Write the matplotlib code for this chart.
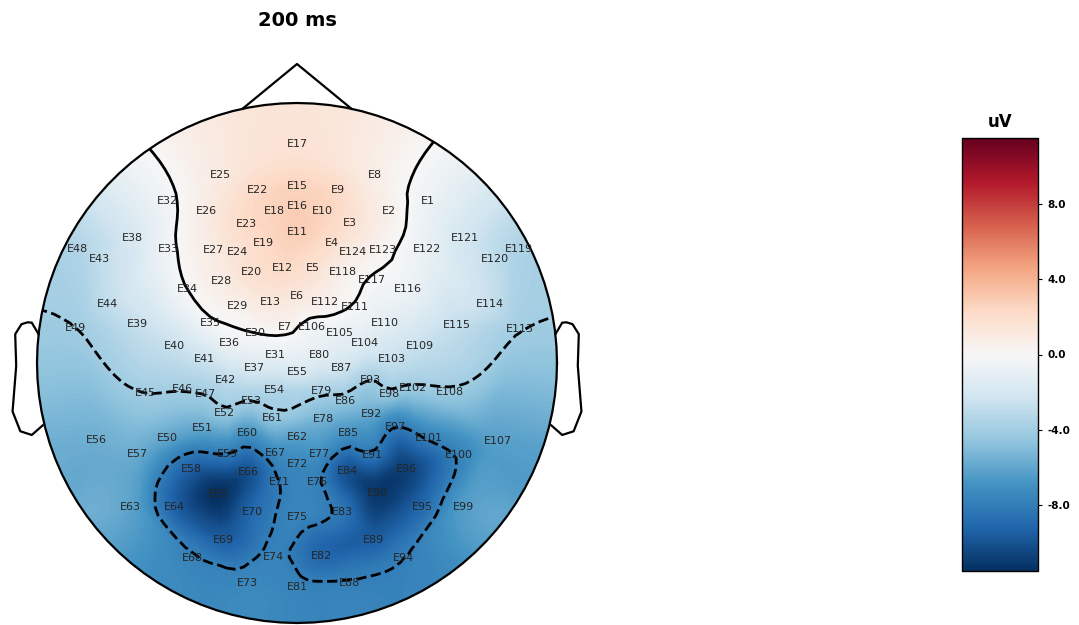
import numpy as np
import matplotlib
matplotlib.use("Agg")
import matplotlib.pyplot as plt
import matplotlib.tri as mtri
from matplotlib.patches import Circle
from matplotlib.ticker import MaxNLocator

# EGI 128 net, 2D layout (head radius = 260 layout units), E14/E21/E125-E128 dropped
ch_names = [
    "E1", "E2", "E3", "E4", "E5", "E6", "E7", "E8", "E9", "E10",
    "E11", "E12", "E13", "E15", "E16", "E17", "E18", "E19", "E20", "E22",
    "E23", "E24", "E25", "E26", "E27", "E28", "E29", "E30", "E31", "E32",
    "E33", "E34", "E35", "E36", "E37", "E38", "E39", "E40", "E41", "E42",
    "E43", "E44", "E45", "E46", "E47", "E48", "E49", "E50", "E51", "E52",
    "E53", "E54", "E55", "E56", "E57", "E58", "E59", "E60", "E61", "E62",
    "E63", "E64", "E65", "E66", "E67", "E68", "E69", "E70", "E71", "E72",
    "E73", "E74", "E75", "E76", "E77", "E78", "E79", "E80", "E81", "E82",
    "E83", "E84", "E85", "E86", "E87", "E88", "E89", "E90", "E91", "E92",
    "E93", "E94", "E95", "E96", "E97", "E98", "E99", "E100", "E101", "E102",
    "E103", "E104", "E105", "E106", "E107", "E108", "E109", "E110", "E111", "E112",
    "E113", "E114", "E115", "E116", "E117", "E118", "E119", "E120", "E121", "E122",
    "E123", "E124",
]
sensor_x = [
    131, 92, 53, 35, 16, 0, -12, 78, 41, 25,
    0, -15, -27, 0, 0, 0, -23, -34, -46, -40,
    -51, -59, -77, -91, -84, -75, -59, -42, -22, -130,
    -129, -110, -87, -68, -43, -165, -160, -123, -93, -71,
    -198, -190, -152, -115, -91, -219, -221, -130, -95, -73,
    -46, -23, 0, -201, -160, -106, -70, -50, -25, 0,
    -167, -123, -79, -49, -22, -105, -74, -45, -18, 0,
    -50, -23, 0, 20, 23, 27, 25, 22, 0, 25,
    45, 50, 51, 48, 45, 52, 76, 80, 75, 75,
    73, 107, 125, 109, 98, 92, 167, 162, 132, 116,
    95, 68, 43, 15, 201, 153, 123, 88, 58, 28,
    223, 193, 160, 111, 75, 46, 222, 198, 168, 130,
    86, 56,
]
sensor_y = [
    162, 152, 140, 120, 95, 67, 36, 188, 173, 152,
    131, 95, 61, 177, 157, 219, 152, 120, 91, 173,
    139, 111, 188, 152, 113, 82, 57, 30, 8, 162,
    114, 74, 40, 20, -5, 125, 39, 17, 4, -17,
    104, 59, -30, -26, -31, 114, 35, -75, -65, -50,
    -38, -27, -9, -77, -91, -106, -91, -70, -55, -74,
    -144, -144, -131, -109, -90, -195, -177, -149, -119, -101,
    -220, -194, -154, -119, -91, -56, -28, 8, -224, -193,
    -149, -108, -70, -38, -5, -220, -177, -130, -92, -51,
    -17, -195, -144, -106, -64, -31, -144, -92, -75, -25,
    4, 20, 30, 36, -78, -29, 17, 40, 56, 61,
    34, 59, 38, 74, 83, 91, 114, 104, 125, 114,
    113, 111,
]
# amplitude at 200 ms, in uV
values_uv = [
    -0.6, 0.6, 1.8, 1.9, 1.7, 1.2, 0.3, 0.8, 2.2, 2.6,
    2.8, 2.2, 1.2, 2.6, 2.8, 1.6, 2.6, 2.2, 1.8, 2.3,
    2.2, 1.6, 1.1, 1.0, 1.0, 0.9, 0.5, 0.0, -0.9, -0.3,
    -0.3, 0.0, -0.2, -0.6, -1.8, -1.8, -2.6, -2.5, -2.4, -3.0,
    -2.8, -2.8, -4.0, -3.9, -3.95, -3.4, -4.0, -6.0, -5.8, -4.3,
    -4.0, -3.4, -1.8, -5.6, -5.8, -9.4, -8.0, -6.8, -4.4, -6.2,
    -6.2, -9.5, -11.5, -10.0, -7.2, -7.8, -9.6, -9.0, -8.0, -7.4,
    -7.5, -7.7, -7.6, -7.8, -7.0, -5.4, -3.7, -1.2, -7.7, -9.2,
    -8.3, -10.0, -6.8, -4.5, -2.2, -7.9, -9.6, -11.2, -8.2, -5.8,
    -4.0, -8.0, -9.2, -10.8, -8.0, -4.3, -6.5, -7.8, -7.8, -4.2,
    -2.6, -1.5, -0.8, -0.4, -6.3, -4.2, -2.6, -1.2, -0.1, 0.6,
    -3.95, -2.6, -2.7, -0.6, -0.1, 0.6, -3.5, -2.8, -2.0, -0.8,
    0.3, 0.9,
]
time_label = "200 ms"
unit_label = "uV"
HEAD_R = 260.0

pos = np.column_stack([sensor_x, sensor_y]) / HEAD_R
vals = np.asarray(values_uv, dtype=float)
n_ch = len(pos)

# extra points on a ring outside the head; each gets the mean of its
# Delaunay neighbours among the real sensors
tri0 = mtri.Triangulation(pos[:, 0], pos[:, 1])
e = tri0.edges
spacing = np.median(np.hypot(*(pos[e[:, 0]] - pos[e[:, 1]]).T))
n_ring = max(12, int(round(2 * np.pi / np.arcsin(min(spacing, 1.0)))))
ang = np.linspace(0, 2 * np.pi, n_ring, endpoint=False)
ring = np.column_stack([np.cos(ang), np.sin(ang)]) * (1.1 + spacing)
all_pos = np.vstack([pos, ring])
tri = mtri.Triangulation(all_pos[:, 0], all_pos[:, 1])

ring_sum = np.zeros(n_ring)
ring_cnt = np.zeros(n_ring)
for a, b in tri.edges:
    if a >= n_ch and b < n_ch:
        ring_sum[a - n_ch] += vals[b]
        ring_cnt[a - n_ch] += 1
    elif b >= n_ch and a < n_ch:
        ring_sum[b - n_ch] += vals[a]
        ring_cnt[b - n_ch] += 1
used = ring_cnt > 0
ring_vals = np.zeros(n_ring)
ring_vals[used] = ring_sum[used] / ring_cnt[used]
ring_vals[~used] = ring_vals[used].mean()
all_vals = np.concatenate([vals, ring_vals])

interp = mtri.CubicTriInterpolator(tri, all_vals, kind="geom")
res = 64
xi = np.linspace(-1, 1, res)
Xi, Yi = np.meshgrid(xi, xi)
Zi = np.ma.filled(interp(Xi, Yi), np.nan)

vmax = np.abs(vals).max()
vmin = -vmax
levels = MaxNLocator(nbins=7).tick_values(vmin, vmax)

fig = plt.figure(figsize=(10.79, 6.25), dpi=100)
ax = fig.add_axes([0, 0, 594 / 1079, 585 / 625])
ax.set_xlim(-297 / HEAD_R, 297 / HEAD_R)
ax.set_ylim(-262 / HEAD_R, 323 / HEAD_R)
ax.axis("off")

clip = Circle((0, 0), 1.0, transform=ax.transData)
im = ax.imshow(Zi, origin="lower", extent=(-1, 1, -1, 1), cmap="RdBu_r",
               vmin=vmin, vmax=vmax, interpolation="bilinear", aspect="auto")
im.set_clip_path(clip)
cs = ax.contour(Xi, Yi, Zi, levels, colors="k", linewidths=2.0)
cs.set_clip_path(clip)

# head, nose, ears
ll = np.linspace(0, 2 * np.pi, 101)
ax.plot(np.cos(ll), np.sin(ll), color="k", lw=1.6)
dz = np.exp(np.arccos(np.deg2rad(12)) * 1j)
ax.plot([-dz.real, 0, dz.real], [dz.imag, 1.15, dz.imag], color="k", lw=1.6)
ear_x = np.array([0.497, 0.510, 0.518, 0.5299, 0.5419, 0.54, 0.547,
                  0.532, 0.510, 0.489]) * 2
ear_y = np.array([0.0555, 0.0775, 0.0783, 0.0746, 0.0555, -0.0055, -0.0932,
                  -0.1313, -0.1384, -0.1199]) * 2
ax.plot(ear_x, ear_y, color="k", lw=1.6)
ax.plot(-ear_x, ear_y, color="k", lw=1.6)

for name, (px, py) in zip(ch_names, pos):
    ax.text(px, py, name, ha="center", va="center", fontsize=8, color="0.15")

ax.set_title(time_label, fontsize=14, fontweight="bold", pad=10)

cax = fig.add_axes([962 / 1079, 54 / 625, 76 / 1079, 433 / 625])
cbar = fig.colorbar(im, cax=cax, format="%3.1f",
                    ticks=[lv for lv in levels if vmin <= lv <= vmax])
cbar.outline.set_linewidth(1.0)
cax.tick_params(labelsize=7.5, length=3)
for lab in cax.get_yticklabels():
    lab.set_fontweight("bold")
cax.set_title(unit_label, fontsize=12, fontweight="bold", pad=8)

fig.savefig("out.png", dpi=100)
